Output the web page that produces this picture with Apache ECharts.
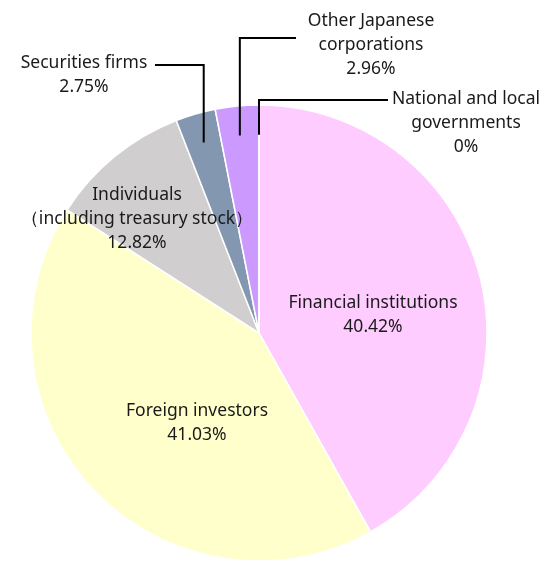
<!DOCTYPE html>
<html>
<head>
<meta charset="utf-8">
<script src="https://cdn.jsdelivr.net/npm/echarts@6/dist/echarts.min.js"></script>
<style>
  html, body { margin: 0; padding: 0; background: #fff; }
  #main { width: 550px; height: 573px; }
</style>
</head>
<body>
<div id="main"></div>
<script>
/** 株主構成 円グラフ */
var categories = [
    'Financial institutions',
    'Foreign investors',
    'Individuals\n（including treasury stock）',
    'Securities firms',
    'Other Japanese\ncorporations',
    'National and local\ngovernments'
];
// 扇形の大きさ（元の図の角度から読み取り）
var sliceShares = [41.86, 42.22, 10.0, 2.83, 3.08, 0];
// ラベルに表示されている割合
var labelPercents = ['40.42', '41.03', '12.82', '2.75', '2.96', '0'];
var colors = ['#ffccff', '#ffffcc', '#d0cece', '#8497b0', '#cc99ff', '#ffccff'];
var outsideLabel = [false, false, false, true, true, true];

var center = [259, 333];
var radius = 228;

// ラベル位置（中心）と引き出し線の折れ位置
var labelPos = [
    {x: 373, y: 315},
    {x: 197, y: 423},
    {x: 137, y: 219},
    {x: 84, y: 75, lineY: 65, lineEnd: 155},
    {x: 371, y: 45, lineY: 38, lineEnd: 296},
    {x: 466, y: 123, lineY: 100, lineEnd: 388}
];

var pieData = [];
var labelData = [];
for (var i = 0; i < categories.length; i++) {
    pieData.push({
        name: categories[i],
        value: sliceShares[i],
        itemStyle: {color: colors[i]}
    });
    labelData.push({
        name: categories[i],
        value: sliceShares[i],
        pct: labelPercents[i],
        labelLine: {show: outsideLabel[i]}
    });
}

var chart = echarts.init(document.getElementById('main'));
chart.setOption({
    animation: false,
    series: [{
        // 扇形
        type: 'pie',
        z: 2,
        silent: true,
        center: center,
        radius: radius,
        startAngle: 90,
        clockwise: true,
        itemStyle: {
            borderColor: '#ffffff',
            borderWidth: 1.5
        },
        label: {show: false},
        labelLine: {show: false},
        data: pieData
    }, {
        // ラベルと引き出し線（扇形の上に描く）
        type: 'pie',
        z: 3,
        silent: true,
        center: center,
        radius: radius,
        startAngle: 90,
        clockwise: true,
        avoidLabelOverlap: false,
        itemStyle: {
            color: 'rgba(0,0,0,0)',
            borderWidth: 0
        },
        label: {
            show: true,
            position: 'outside',
            formatter: function (p) {
                return p.name + '\n' + p.data.pct + '%';
            },
            fontFamily: 'Noto Sans',
            fontSize: 17.5,
            lineHeight: 24,
            color: '#1a1a1a',
            align: 'center'
        },
        labelLine: {
            showAbove: true,
            lineStyle: {color: '#000000', width: 2}
        },
        labelLayout: function (params) {
            var p = labelPos[params.dataIndex];
            var res = {x: p.x, y: p.y, align: 'center', verticalAlign: 'middle'};
            if (p.lineY !== undefined && params.labelLinePoints) {
                // 扇形の中央角方向、半径の87%の点から垂直に立ち上げる
                var p0 = params.labelLinePoints[0];
                var ax = center[0] + (p0[0] - center[0]) * 0.87;
                var ay = center[1] + (p0[1] - center[1]) * 0.87;
                res.labelLinePoints = [[ax, ay], [ax, p.lineY], [p.lineEnd, p.lineY]];
            }
            return res;
        },
        data: labelData
    }]
});
</script>
</body>
</html>
